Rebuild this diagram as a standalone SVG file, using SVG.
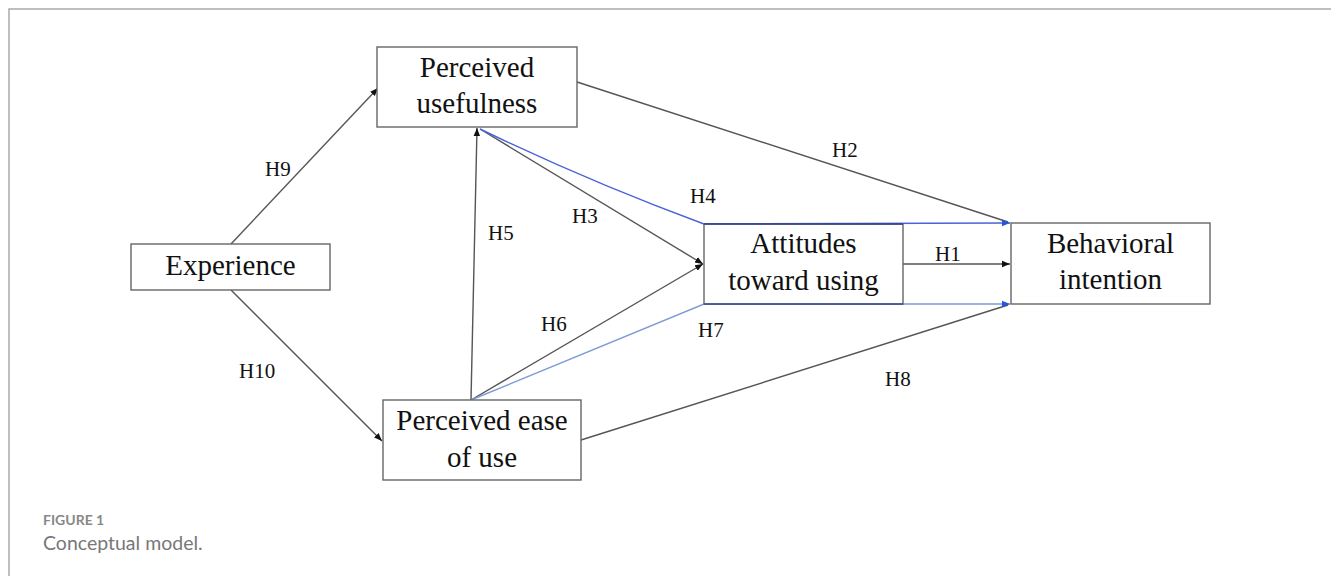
<svg xmlns="http://www.w3.org/2000/svg" width="1331" height="576" viewBox="0 0 1331 576">
<defs>
<style>
.box{fill:#fff;stroke:#666;stroke-width:1.4}
.nt{font-family:"Liberation Serif","Times New Roman",serif;font-size:29px;fill:#111;text-anchor:middle}
.lb{font-family:"Liberation Serif","Times New Roman",serif;font-size:21px;fill:#111}
.ln{fill:none;stroke:#555;stroke-width:1.4}
.bl{fill:none;stroke:#4a63d6;stroke-width:1.4}
.bl2{fill:none;stroke:#7f9bd6;stroke-width:1.4}
</style>
<marker id="ah" markerWidth="9" markerHeight="8" refX="8" refY="4" orient="auto" markerUnits="userSpaceOnUse">
<path d="M0,0.8 L8,4 L0,7.2 Z" fill="#111"/>
</marker>
<marker id="ahb" markerWidth="9" markerHeight="8" refX="8" refY="4" orient="auto" markerUnits="userSpaceOnUse">
<path d="M0,0.8 L8,4 L0,7.2 Z" fill="#2456e0"/>
</marker>
</defs>
<rect width="1331" height="576" fill="#fff"/>
<path d="M9,600 L9,9 L1331,9" fill="none" stroke="#aaa" stroke-width="1.5"/>

<g id="connectors">
<line class="ln" x1="231" y1="244" x2="378" y2="88" marker-end="url(#ah)"/>
<line class="ln" x1="231" y1="290" x2="382" y2="441" marker-end="url(#ah)"/>
<line class="ln" x1="471" y1="400" x2="477" y2="128" marker-end="url(#ah)"/>
<line class="ln" x1="480" y1="129" x2="703" y2="264" marker-end="url(#ah)"/>
<line class="ln" x1="471" y1="400" x2="703" y2="264" marker-end="url(#ah)"/>
<line class="ln" x1="574" y1="81" x2="1008" y2="222"/>
<line class="ln" x1="581" y1="440" x2="1008" y2="305"/>
<line class="ln" x1="903" y1="264" x2="1010" y2="264" marker-end="url(#ah)"/>
<path class="bl" d="M480,129 Q590,182 704,224 L1010,223" marker-end="url(#ahb)"/>
<path class="bl2" d="M471,400 L704,304 L1010,304" marker-end="url(#ahb)"/>
</g>

<g id="node-experience">
<rect class="box" x="131" y="244" width="199" height="46"/>
<text class="nt" x="230.5" y="275">Experience</text>
</g>
<g id="node-pu">
<rect class="box" x="377" y="47" width="200" height="80"/>
<text class="nt" x="477" y="77">Perceived</text>
<text class="nt" x="477" y="113">usefulness</text>
</g>
<g id="node-attitudes">
<rect class="box" x="704" y="224" width="199" height="80"/>
<line x1="704" y1="224" x2="903" y2="224" stroke="#2c3f9a" stroke-width="1.6"/>
<line x1="704" y1="304" x2="903" y2="304" stroke="#3a4f9e" stroke-width="1.4"/>
<text class="nt" x="803.5" y="253">Attitudes</text>
<text class="nt" x="803.5" y="290">toward using</text>
</g>
<g id="node-bi">
<rect class="box" x="1011" y="223" width="199" height="81"/>
<text class="nt" x="1110.5" y="253">Behavioral</text>
<text class="nt" x="1110.5" y="289">intention</text>
</g>
<g id="node-peou">
<rect class="box" x="383" y="400" width="198" height="80"/>
<text class="nt" x="482" y="430">Perceived ease</text>
<text class="nt" x="482" y="467">of use</text>
</g>

<g id="labels">
<text class="lb" x="265" y="176">H9</text>
<text class="lb" x="239" y="378">H10</text>
<text class="lb" x="488" y="240">H5</text>
<text class="lb" x="572" y="223">H3</text>
<text class="lb" x="690" y="203">H4</text>
<text class="lb" x="832" y="157">H2</text>
<text class="lb" x="935" y="261">H1</text>
<text class="lb" x="541" y="331">H6</text>
<text class="lb" x="698" y="337">H7</text>
<text class="lb" x="885" y="386">H8</text>
</g>

<g id="caption">
<text x="43" y="525" font-family="Lato,'Open Sans',sans-serif" font-size="14" font-weight="bold" fill="#888">FIGURE 1</text>
<text x="43" y="550" font-family="Lato,'Open Sans',sans-serif" font-size="19.5" fill="#777">Conceptual model.</text>
</g>
</svg>
